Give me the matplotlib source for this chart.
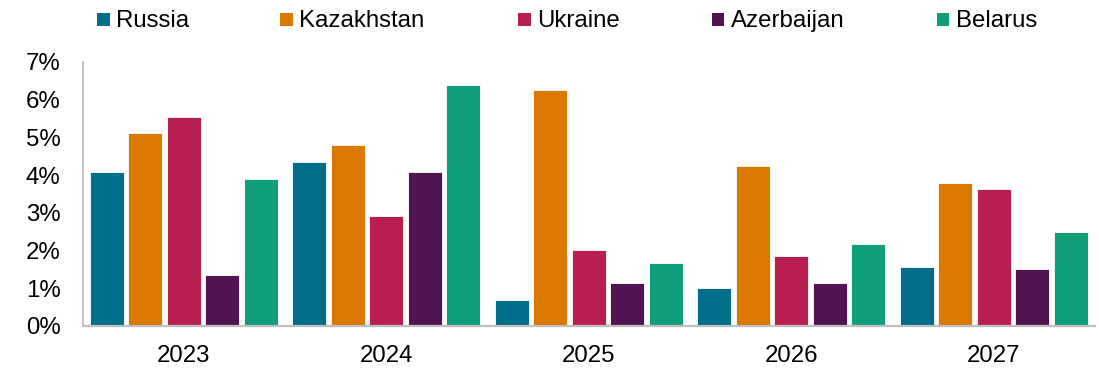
import matplotlib
matplotlib.use("Agg")
import matplotlib.pyplot as plt
from matplotlib.patches import Rectangle
from matplotlib.ticker import FuncFormatter, MultipleLocator
import numpy as np

plt.rcParams['font.family'] = ['Liberation Sans', 'DejaVu Sans']

years = ["2023", "2024", "2025", "2026", "2027"]
countries = ["Russia", "Kazakhstan", "Ukraine", "Azerbaijan", "Belarus"]
colors = ["#006E8A", "#DB7800", "#B81F50", "#501453", "#0F9D7A"]

russia = [4.09, 4.35, 0.67, 1.01, 1.55]
kazakhstan = [5.11, 4.80, 6.25, 4.24, 3.80]
ukraine = [5.53, 2.90, 2.00, 1.84, 3.64]
azerbaijan = [1.34, 4.07, 1.13, 1.13, 1.51]
belarus = [3.89, 6.39, 1.67, 2.16, 2.49]
series = [russia, kazakhstan, ukraine, azerbaijan, belarus]

W, H = 1099, 369
fig = plt.figure(figsize=(W / 100, H / 100), dpi=100)
ax = fig.add_axes([82.6 / W, 1 - 325.7 / H, (1095 - 82.6) / W, (325.7 - 62) / H])

x = np.arange(len(years))
slot = 0.19
for i, (vals, col) in enumerate(zip(series, colors)):
    offs = (i - 2) * slot
    ax.bar(x + offs, vals, width=0.168, color=col, edgecolor="white",
           linewidth=0.6, zorder=2)

ax.set_xlim(-0.5, len(years) - 0.5)
ax.set_ylim(0, 7)
ax.yaxis.set_major_locator(MultipleLocator(1))
ax.yaxis.set_major_formatter(FuncFormatter(lambda v, p: f"{v:.0f}%"))
ax.set_xticks(x)
ax.set_xticklabels(years)
ax.tick_params(axis="both", length=0, labelsize=17.3, colors="black")
ax.tick_params(axis="y", pad=16)
ax.tick_params(axis="x", pad=14)

for s in ["top", "right"]:
    ax.spines[s].set_visible(False)
ax.spines["left"].set_color("#B0B0B0")
ax.spines["left"].set_linewidth(1.1)
ax.spines["bottom"].set_color("#BFBFBF")
ax.spines["bottom"].set_linewidth(1.6)
ax.spines["bottom"].set_zorder(3)

# legend row along the top
sq_x = [97.3, 280.0, 518.3, 711.7, 936.7]
sq = 12.6
for name, col, sx in zip(countries, colors, sq_x):
    fig.add_artist(Rectangle((sx / W, 1 - 25.9 / H), sq / W, sq / H,
                             transform=fig.transFigure, facecolor=col,
                             edgecolor="none"))
    fig.text((sx + sq + 6.5) / W, 1 - 27.3 / H, name, fontsize=17.3,
             color="black", ha="left", va="baseline")

fig.savefig("out.png", dpi=100)
